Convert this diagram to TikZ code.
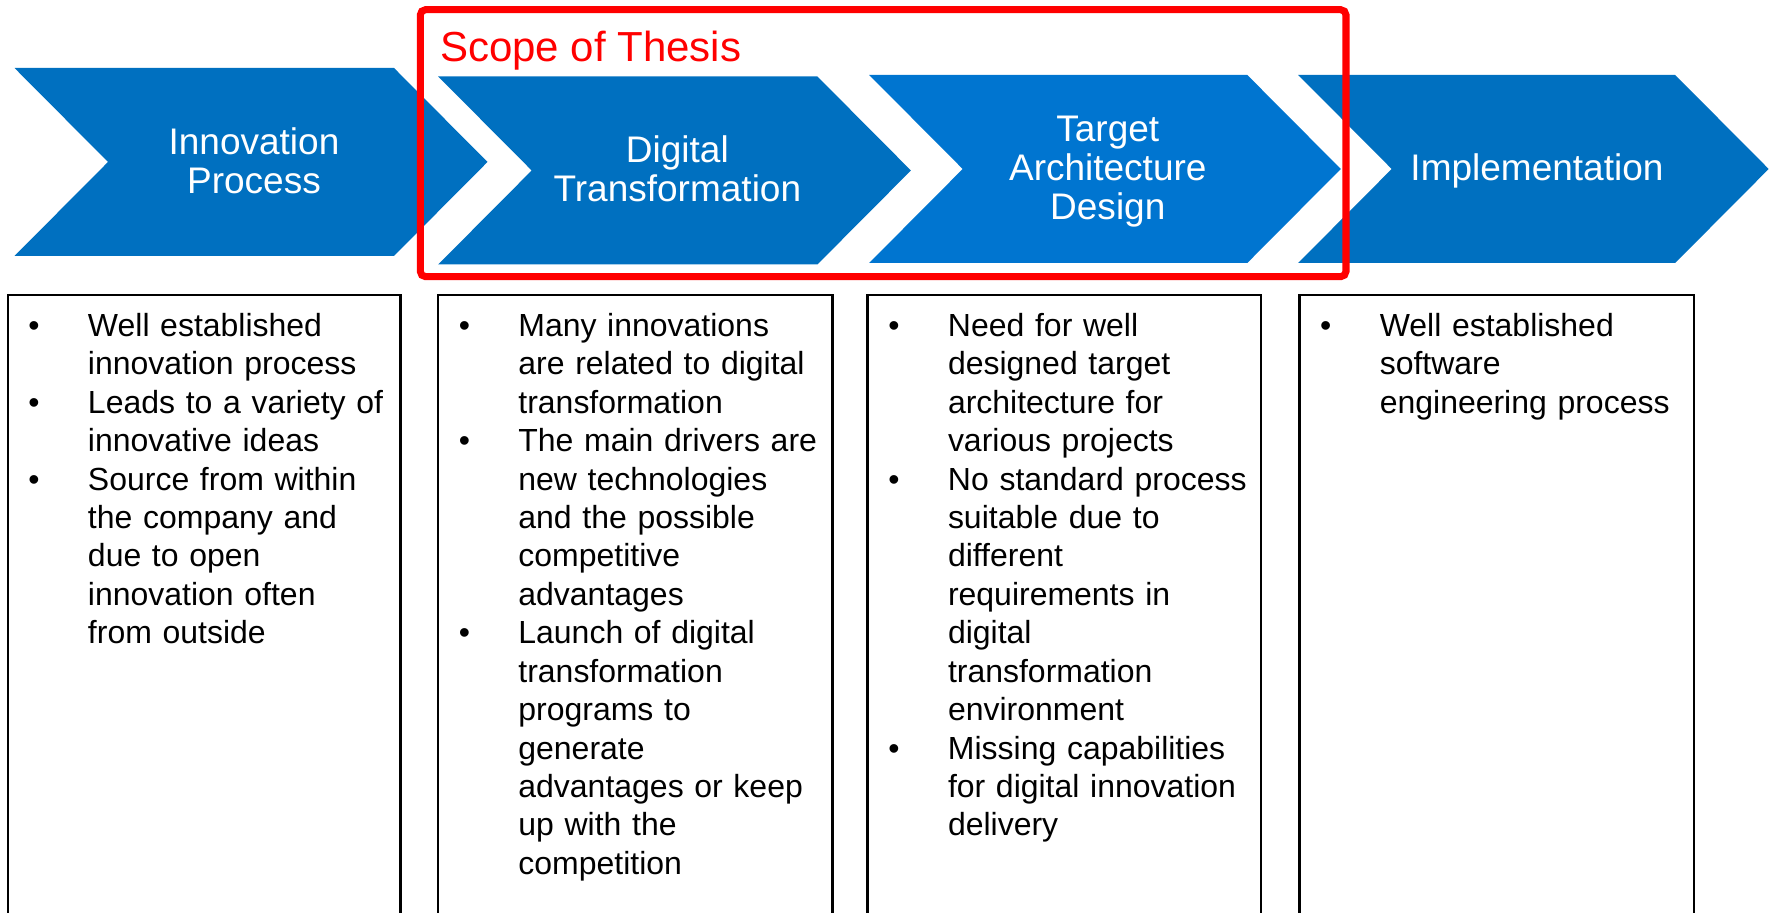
\documentclass[tikz,border=0pt]{standalone}
\usepackage{fontspec}
\setmainfont{Liberation Sans}
\usepackage{tikz}
\usetikzlibrary{positioning}

\definecolor{stageblue}{HTML}{0070C0}
\definecolor{stagelight}{HTML}{0075D0}
\definecolor{scopered}{HTML}{FF0000}

\newcommand{\bul}{\leavevmode\llap{\textbullet\hspace{0.484cm}}}

\begin{document}
\begin{tikzpicture}[inner sep=0pt, outer sep=0pt]
  \tikzstyle{stage}=[text=white,align=center,text width=3.7cm,anchor=base,
    font=\fontsize{10.53pt}{11.1pt}\selectfont]
  \tikzstyle{notebox}=[draw=black,line width=0.7pt,fill=none,anchor=north west,
    minimum height=6.6cm]
  \tikzstyle{notes}=[text=black,align=left,text width=3.1cm,anchor=base west,
    font=\fontsize{9.1pt}{10.93pt}\selectfont]

  \useasboundingbox (0,0) rectangle (17.71,9.13);
  \clip (0,0) rectangle (17.71,9.13);

  \foreach \x/\y/\w/\col in {0.145/8.45/3.795/stageblue, 4.382/8.365/3.792/stageblue,
      8.692/8.38/3.781/stagelight, 12.982/8.38/3.77/stageblue}
    \fill[\col] (\x,\y) -- ++(\w,0) -- ++(0.935,-0.94) -- ++(-0.935,-0.94)
      -- ++(-\w,0) -- ++(0.935,0.94) -- cycle;

  \node[stage] (innov)  at (2.54,7.58)   {Innovation\\ Process};
  \node[stage] (digit)  at (6.774,7.503) {Digital\\ Transformation};
  \node[stage] (target) at (11.078,7.713) {Target\\ Architecture\\ Design};
  \node[stage] (impl)   at (15.37,7.32)  {Implementation};

  \draw[scopered,line width=2pt,rounded corners=1.5pt] (4.203,9.033) rectangle (13.46,6.363);
  \node[text=scopered,anchor=base west,font=\fontsize{11.95pt}{13pt}\selectfont]
    (scope) at (4.40,8.513) {Scope of Thesis};

  \node[notebox,minimum width=3.927cm] (innovbox)  at (0.08,6.18)   {};
  \node[notebox,minimum width=3.944cm] (digitbox)  at (4.38,6.18)   {};
  \node[notebox,minimum width=3.936cm] (targetbox) at (8.676,6.18)  {};
  \node[notebox,minimum width=3.947cm] (implbox)   at (12.993,6.18) {};

  \node[notes] (innovtxt) at (0.88,5.765) {\bul Well established\\ innovation process\\
    \bul Leads to a variety of\\ innovative ideas\\ \bul Source from within\\
    the company and\\ due to open\\ innovation often\\ from outside};
  \node[notes] (digittxt) at (5.184,5.765) {\bul Many innovations\\ are related to digital\\
    transformation\\ \bul The main drivers are\\ new technologies\\ and the possible\\
    competitive\\ advantages\\ \bul Launch of digital\\ transformation\\ programs to\\
    generate\\ advantages or keep\\ up with the\\ competition};
  \node[notes] (targettxt) at (9.48,5.765) {\bul Need for well\\ designed target\\
    architecture for\\ various projects\\ \bul No standard process\\ suitable due to\\
    different\\ requirements in\\ digital\\ transformation\\ environment\\
    \bul Missing capabilities\\ for digital innovation\\ delivery};
  \node[notes] (impltxt) at (13.798,5.765) {\bul Well established\\ software\\
    engineering process};
\end{tikzpicture}
\end{document}
